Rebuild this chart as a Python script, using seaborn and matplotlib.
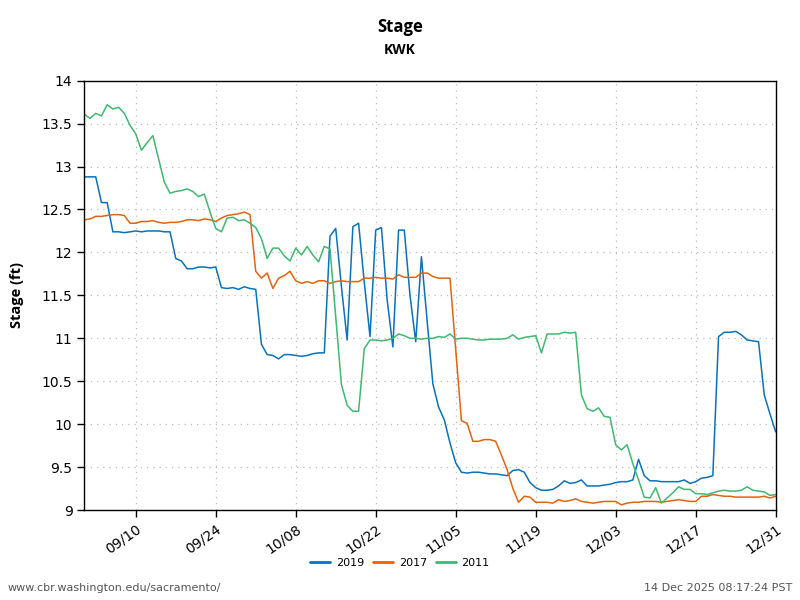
import pandas as pd
import matplotlib
matplotlib.use("Agg")
import matplotlib.pyplot as plt
import matplotlib.dates as mdates
from matplotlib.ticker import FixedLocator
from matplotlib.lines import Line2D
import seaborn as sns

# Data: daily stage (ft), 09/01 .. 12/31
dates = pd.date_range("2001-09-01", "2001-12-31", freq="D")

stage_2019 = [
    12.88, 12.88, 12.88, 12.58, 12.58, 12.24, 12.24, 12.23, 12.24, 12.25,
    12.24, 12.25, 12.25, 12.25, 12.24, 12.24, 11.93, 11.90, 11.81, 11.81,
    11.83, 11.83, 11.82, 11.83, 11.59, 11.58, 11.59, 11.57,
    11.60, 11.58, 11.57, 10.93, 10.81, 10.80, 10.76, 10.81, 10.81, 10.80,
    10.79, 10.80, 10.82, 10.83, 10.83, 12.19, 12.28, 11.60, 10.98, 12.30,
    12.34, 11.65, 11.02, 12.26, 12.29, 11.45, 10.90,
    12.26, 12.26, 11.50, 10.96, 11.95, 11.20, 10.47, 10.20, 10.05, 9.78,
    9.55, 9.44, 9.43, 9.44, 9.44, 9.43, 9.42, 9.42, 9.41, 9.40,
    9.46, 9.47, 9.44, 9.32, 9.26, 9.23, 9.23, 9.24, 9.28, 9.34,
    9.31, 9.32,
    9.35, 9.28, 9.28, 9.28, 9.29, 9.30, 9.32, 9.33, 9.33, 9.35,
    9.59, 9.40, 9.34, 9.34, 9.33, 9.33, 9.33, 9.33, 9.35, 9.31,
    9.33, 9.37, 9.38, 9.40, 11.02, 11.07, 11.07, 11.08, 11.04, 10.98,
    10.97, 10.96, 10.34, 10.12, 9.91,
]

stage_2017 = [
    12.38, 12.39, 12.42, 12.42, 12.43, 12.44, 12.44, 12.43, 12.34, 12.34,
    12.36, 12.36, 12.37, 12.35, 12.34, 12.35, 12.35, 12.36, 12.38, 12.38,
    12.37, 12.39, 12.38, 12.36, 12.40, 12.43, 12.44, 12.45,
    12.47, 12.44, 11.78, 11.70, 11.76, 11.58, 11.70, 11.73, 11.78, 11.67,
    11.64, 11.66, 11.64, 11.67, 11.67, 11.64, 11.66, 11.67, 11.66, 11.66,
    11.66, 11.70, 11.70, 11.71, 11.70, 11.70, 11.69,
    11.74, 11.71, 11.71, 11.71, 11.76, 11.76, 11.72, 11.70, 11.70, 11.70,
    10.87, 10.04, 10.01, 9.80, 9.80, 9.82, 9.82, 9.80, 9.64, 9.47,
    9.25, 9.09, 9.16, 9.15, 9.09, 9.09, 9.09, 9.08, 9.12, 9.10,
    9.11, 9.13,
    9.10, 9.09, 9.08, 9.09, 9.10, 9.10, 9.10, 9.06, 9.08, 9.09,
    9.09, 9.10, 9.10, 9.10, 9.09, 9.10, 9.11, 9.12, 9.11, 9.10,
    9.10, 9.16, 9.16, 9.18, 9.17, 9.16, 9.16, 9.15, 9.15, 9.15,
    9.15, 9.15, 9.16, 9.14, 9.16,
]

stage_2011 = [
    13.61, 13.56, 13.62, 13.59, 13.72, 13.67, 13.69, 13.62, 13.48, 13.38,
    13.19, 13.28, 13.36, 13.09, 12.82, 12.69, 12.71, 12.72, 12.74, 12.71,
    12.65, 12.68, 12.47, 12.28, 12.24, 12.40, 12.41, 12.37,
    12.38, 12.34, 12.29, 12.16, 11.93, 12.05, 12.05, 11.96, 11.90, 12.05,
    11.97, 12.07, 11.97, 11.89, 12.07, 12.04, 11.25, 10.46, 10.22, 10.15,
    10.15, 10.88, 10.98, 10.98, 10.97, 10.98, 11.00,
    11.05, 11.03, 11.00, 11.00, 10.99, 11.00, 11.00, 11.02, 11.01, 11.05,
    10.99, 11.00, 11.00, 10.99, 10.98, 10.98, 10.99, 10.99, 10.99, 11.00,
    11.04, 10.99, 11.01, 11.02, 11.03, 10.83, 11.05, 11.05, 11.05, 11.07,
    11.06, 11.07,
    10.34, 10.18, 10.15, 10.19, 10.09, 10.08, 9.76, 9.70, 9.76, 9.54,
    9.35, 9.15, 9.14, 9.26, 9.08, 9.14, 9.20, 9.27, 9.24, 9.24,
    9.19, 9.19, 9.18, 9.20, 9.22, 9.23, 9.22, 9.22, 9.23, 9.27,
    9.23, 9.22, 9.21, 9.17, 9.18,
]

years = ["2019", "2017", "2011"]
colors = {"2019": "#0a72b8", "2017": "#e2640f", "2011": "#40b870"}
tick_dates = pd.date_range("2001-09-10", "2001-12-31", freq="14D")
y_ticks = [9, 9.5, 10, 10.5, 11, 11.5, 12, 12.5, 13, 13.5, 14]

frames = []
for yr, vals in zip(years, [stage_2019, stage_2017, stage_2011]):
    frames.append(pd.DataFrame({"date": dates, "stage": vals, "year": yr}))
df = pd.concat(frames, ignore_index=True)

sns.set_style("white")
plt.rcParams["font.family"] = ["DejaVu Sans"]
plt.rcParams["text.color"] = "black"
plt.rcParams["axes.labelcolor"] = "black"

fig = plt.figure(figsize=(8, 6), dpi=100)
ax = fig.add_axes([0.1054, 0.15, 0.8642, 0.7155])

sns.lineplot(data=df, x="date", y="stage", hue="year", palette=colors,
             hue_order=years, linewidth=1.1, legend=False, ax=ax)

ax.set_xlim(pd.Timestamp("2001-09-01"), pd.Timestamp("2001-12-31"))
ax.set_ylim(9, 14)
ax.set_yticks(y_ticks)
ax.set_yticklabels([f"{v:g}" for v in y_ticks])
ax.xaxis.set_major_locator(FixedLocator(mdates.date2num(tick_dates)))
ax.xaxis.set_major_formatter(mdates.DateFormatter("%m/%d"))

for lbl in ax.get_xticklabels():
    lbl.set_rotation(35)
    lbl.set_ha("right")
    lbl.set_rotation_mode("anchor")

ax.tick_params(axis="both", direction="out", length=5, width=1, colors="black",
               labelsize=10, bottom=True, left=True)
ax.grid(True, linestyle=(0, (1, 4)), color="#bbbbbb", linewidth=0.9)
for s in ax.spines.values():
    s.set_color("black")
    s.set_linewidth(1)

ax.set_xlabel("")
ax.set_ylabel("Stage (ft)", fontsize=10.5, fontweight="bold",
              family=["Open Sans", "DejaVu Sans"], labelpad=13)

fig.text(0.5, 0.955, "Stage", ha="center", va="center", fontsize=12,
         fontweight="bold", family=["Open Sans", "DejaVu Sans"])
fig.text(0.5, 0.917, "KWK", ha="center", va="center", fontsize=10,
         fontweight="bold", family=["Open Sans", "DejaVu Sans"])

handles = [Line2D([0], [0], color=colors[y], lw=2) for y in years]
fig.legend(handles, years, loc="center", bbox_to_anchor=(0.5, 0.062), ncol=3,
           frameon=False, fontsize=8, handlelength=1.8, columnspacing=0.8,
           handletextpad=0.5)

fig.text(0.01, 0.02, "www.cbr.washington.edu/sacramento/", ha="left", va="center",
         fontsize=8, color="#555555")
fig.text(0.99, 0.02, "14 Dec 2025 08:17:24 PST", ha="right", va="center",
         fontsize=8, color="#555555")

fig.savefig("out.png", dpi=100)
